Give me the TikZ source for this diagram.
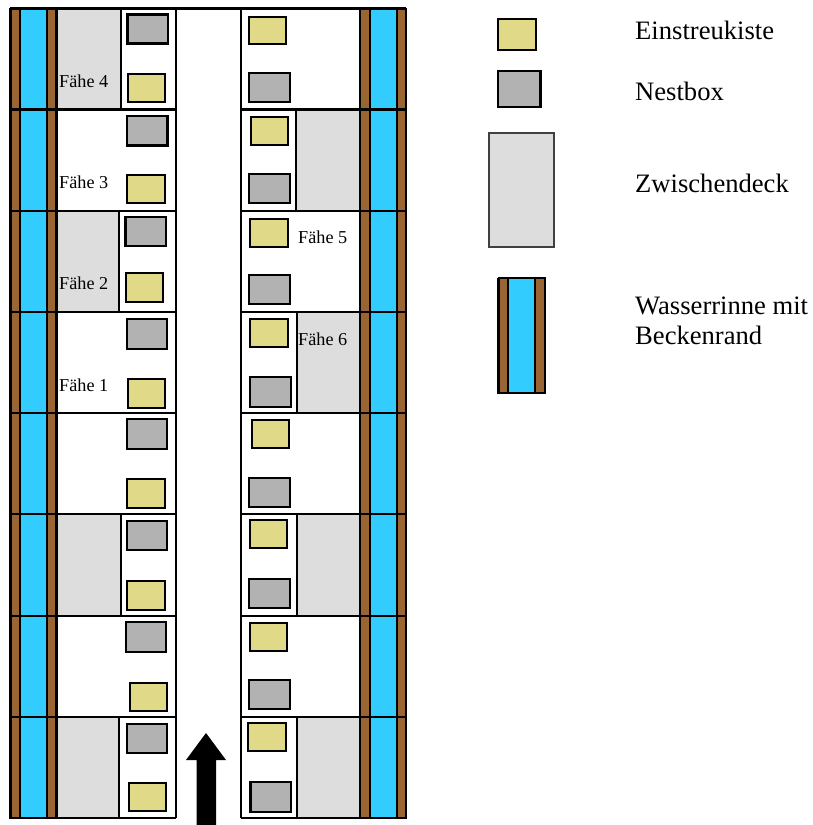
\documentclass[tikz,border=0pt]{standalone}
\usepackage{fontspec}
\setmainfont{Liberation Serif}
\definecolor{strew}{HTML}{E0DA88}
\definecolor{nestc}{HTML}{B2B2B2}
\definecolor{deckc}{HTML}{DDDDDD}
\definecolor{waterc}{HTML}{33CCFF}
\definecolor{rimc}{HTML}{996633}
\tikzset{
  strewbox/.style={draw=black,fill=strew,line width=2pt},
  nestbox/.style={draw=black,fill=nestc,line width=2.8pt},
  deckbox/.style={fill=deckc},
  wall/.style={draw=black,line width=2.6pt},
  grid line/.style={draw=black,line width=2.2pt},
  part line/.style={draw=black,line width=1.9pt},
  smalltext/.style={anchor=base west,inner sep=0pt,font=\fontsize{18.2pt}{20pt}\selectfont},
  bigtext/.style={anchor=base west,inner sep=0pt,font=\fontsize{26.6pt}{30pt}\selectfont},
}
\begin{document}
\begin{tikzpicture}[x=1pt,y=-1pt]
\useasboundingbox (0,0) rectangle (812,825);
% water channels
\foreach \o in {10.5,360}{
  \fill[rimc] (\o,9) rectangle ++(46,809);
  \fill[waterc] (\o+9.5,9) rectangle ++(27,809);
}
% intermediate decks (x0,y0,x1,y1)
\foreach \a/\b/\c/\d in {57/9/121/109.5, 57/211/119/312, 57/514/121/616, 57/717/119/818,
  296/109.5/360/211, 297/312/360/413, 297/514/360/616, 297/717/360/818}{
  \fill[deckbox] (\a,\b) rectangle (\c,\d);
}
% partitions
\foreach \x/\b/\d in {121/9/109.5, 119/211/312, 121/514/616, 119/717/818,
  296/109.5/211, 297/312/413, 297/514/616, 297/717/818}{
  \draw[part line] (\x,\b) -- (\x,\d);
}
% room lines
\draw[grid line] (10,8.5) -- (406,8.5);
\foreach \y in {109.5,211,312,413,514,616,717}{
  \draw[grid line] (10,\y) -- (176,\y);
  \draw[grid line] (241,\y) -- (406,\y);
}
\draw[grid line] (10,818) -- (176,818);
\draw[grid line] (241,818) -- (406,818);
\draw[part line] (176,8.5) -- (176,818);
\draw[part line] (241,8.5) -- (241,818);
% channel verticals
\foreach \x in {10.5,20,47,56.5,360,370,397,406}{
  \draw[wall] (\x,8) -- (\x,819);
}
% nest boxes
\foreach \a/\b/\c/\d in {127.5/14.5/168/43.5, 127/116/167.5/145.5, 125.5/217/166/246, 127/319/167/349,
  127/419/167/449, 127/521/167/550, 126/622/166/652, 127/724/167/753,
  249/73/290/102, 249/174/290/203, 249/275/290/304, 250/377/291/407,
  249/478/290/507, 249/579/290/608, 249/680/290/709, 250.5/782/291/812,
  498/71/540.5/107}{
  \draw[nestbox] (\a,\b) rectangle (\c,\d);
}
% strew boxes
\foreach \a/\b/\c/\d in {127.5/73.5/165/102, 127/175/165/203, 126/273/163/302, 127.5/379/165/408,
  127/479/164.5/508, 127/581/164.5/610, 130/683/167/711, 128.5/783/165.5/811,
  249/17/286/44, 250.5/116.5/287.5/144.5, 250/219/288/247, 250/319/288/347,
  251.5/420/289/448, 250/520/287/548, 250/623/287/651, 248/723/286/751,
  498/19/535.5/50}{
  \draw[strewbox] (\a,\b) rectangle (\c,\d);
}
% corridor arrow
\fill[black] (206,733) -- (226,760) -- (216,760) -- (216,825) -- (196.5,825) -- (196.5,760) -- (186,760) -- cycle;
% labels in the plan
\node[smalltext] (f4) at (59,87) {Fähe 4};
\node[smalltext] (f3) at (59,188) {Fähe 3};
\node[smalltext] (f2) at (59,289) {Fähe 2};
\node[smalltext] (f1) at (59,391) {Fähe 1};
\node[smalltext] (f5) at (298,243) {Fähe 5};
\node[smalltext] (f6) at (298,345) {Fähe 6};
% legend
\draw[draw=black!75,fill=deckc,line width=1.6pt] (489,133) rectangle (554,247);
\fill[rimc] (498.5,278) rectangle (545,393);
\fill[waterc] (508,278) rectangle (535,393);
\foreach \x in {498.5,508,535,545}{
  \draw[wall] (\x,277.5) -- (\x,393.5);
}
\draw[grid line] (498,278) -- (545.5,278);
\draw[grid line] (498,393) -- (545.5,393);
\node[bigtext] (l1) at (635,39) {Einstreukiste};
\node[bigtext] (l2) at (635,100) {Nestbox};
\node[bigtext] (l3) at (635,192) {Zwischendeck};
\node[bigtext] (l4) at (635,314) {Wasserrinne mit};
\node[bigtext] (l5) at (635,344) {Beckenrand};
\end{tikzpicture}
\end{document}
